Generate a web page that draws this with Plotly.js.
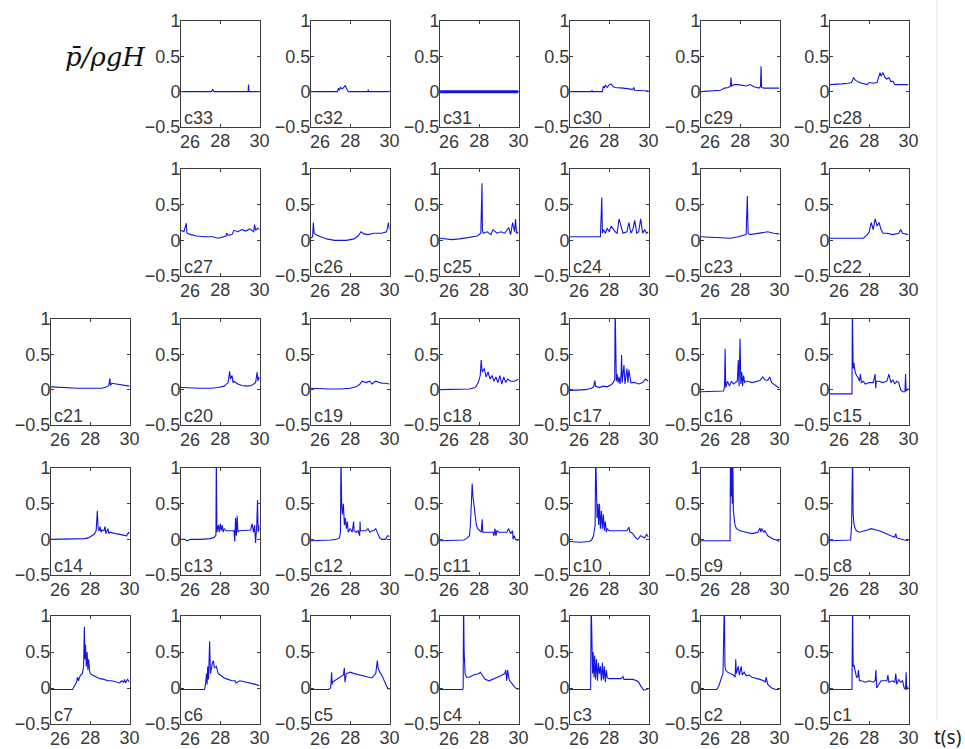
<!DOCTYPE html>
<html><head><meta charset="utf-8">
<script src="https://cdn.plot.ly/plotly-3.0.1.min.js"></script>
<style>html,body{margin:0;padding:0;background:#fff}#chart{width:965px;height:749px}</style>
</head><body><div id="chart"></div>
<script>
// ---- data (t in s, p/(rho g H)) ----
const c33_t=[26,27.55,27.62,27.68,27.75,29.42,29.44,29.46,30];
const c33_p=[0,0,0.03,0,0,0,0.1,0,0];
const c32_t=[26,27.35,27.4,27.45,27.5,27.6,27.7,27.75,27.8,27.85,27.9,28.9,28.92,28.94,30];
const c32_p=[0,0,0.05,0.02,0.06,0.04,0.07,0.09,0.05,0.02,0,0,0.03,0,0];
const c31_t=[26,30];
const c31_p=[0,0];
const c30_t=[26,27.1,27.12,27.14,27.65,27.7,27.75,27.8,27.9,28.0,28.1,28.2,28.3,28.5,28.7,29.0,29.2,29.25,29.3,30];
const c30_p=[0,0,0.02,0,0,0.08,0.05,0.09,0.06,0.1,0.11,0.07,0.06,0.06,0.05,0.04,0.03,0.06,0.02,0.01];
const c29_t=[26,26.5,27.0,27.2,27.4,27.5,27.53,27.56,27.7,27.9,28.1,28.3,28.5,28.7,28.85,28.95,29.03,29.06,29.09,29.2,30];
const c29_p=[0,0.01,0.02,0.05,0.06,0.08,0.2,0.08,0.1,0.1,0.09,0.08,0.1,0.07,0.06,0.05,0.07,0.36,0.06,0.05,0.05];
const c28_t=[26,26.3,26.6,26.9,27.1,27.2,27.3,27.5,27.7,27.9,28.0,28.2,28.4,28.55,28.6,28.7,28.8,28.9,29.0,29.1,29.2,29.3,30];
const c28_p=[0.1,0.1,0.11,0.12,0.13,0.2,0.16,0.13,0.12,0.1,0.13,0.12,0.13,0.27,0.22,0.27,0.2,0.18,0.2,0.14,0.15,0.1,0.1];
const c27_t=[26,26.15,26.27,26.3,26.5,26.8,27.2,27.6,27.9,28.1,28.3,28.32,28.4,28.6,28.7,28.9,29.1,29.3,29.5,29.7,29.75,29.8,29.9,30];
const c27_p=[0.14,0.12,0.24,0.1,0.08,0.06,0.05,0.05,0.03,0.04,0.06,0.1,0.07,0.08,0.14,0.12,0.15,0.13,0.16,0.12,0.22,0.14,0.17,0.15];
const c26_t=[26,26.08,26.12,26.16,26.3,26.5,26.8,27.2,27.8,28.2,28.4,28.55,28.7,28.9,29.2,29.6,29.85,29.95,30];
const c26_p=[0.03,0.05,0.25,0.1,0.07,0.05,0.02,0,0,0.02,0.06,0.12,0.09,0.08,0.1,0.1,0.12,0.25,0.15];
const c25_t=[26,26.3,26.6,27,27.3,27.6,27.9,28.08,28.12,28.14,28.16,28.2,28.4,28.6,28.7,28.9,29.1,29.3,29.5,29.6,29.7,29.8,29.85,29.9,30];
const c25_p=[0.03,0.02,0.01,0.02,0.03,0.04,0.06,0.1,0.42,0.8,0.15,0.1,0.12,0.08,0.15,0.1,0.12,0.1,0.18,0.08,0.25,0.12,0.3,0.1,0.12];
const c24_t=[26,27.0,27.55,27.62,27.65,27.7,27.8,27.9,28.0,28.1,28.3,28.4,28.5,28.7,28.9,29.0,29.1,29.2,29.3,29.4,29.5,29.6,29.7,29.8,29.9,30];
const c24_p=[0.05,0.05,0.05,0.6,0.1,0.15,0.1,0.17,0.12,0.2,0.12,0.1,0.3,0.1,0.12,0.25,0.1,0.15,0.28,0.1,0.12,0.3,0.1,0.15,0.1,0.12];
const c23_t=[26,26.5,27,27.5,27.9,28.2,28.3,28.36,28.4,28.5,28.8,29.1,29.4,29.7,30];
const c23_p=[0.05,0.04,0.04,0.03,0.05,0.07,0.08,0.62,0.1,0.08,0.09,0.1,0.12,0.1,0.09];
const c22_t=[26,27,27.7,27.9,28.0,28.1,28.2,28.3,28.4,28.5,28.6,28.7,28.9,29.2,29.5,29.6,29.7,30];
const c22_p=[0.03,0.03,0.03,0.08,0.12,0.25,0.15,0.3,0.2,0.25,0.15,0.1,0.1,0.08,0.1,0.15,0.1,0.08];
const c21_t=[26,26.5,27.0,27.4,28.0,28.6,28.85,28.95,29.0,29.03,29.1,29.3,29.5,29.7,30];
const c21_p=[0.04,0.03,0.03,0.02,0.02,0.02,0.04,0.06,0.16,0.06,0.09,0.08,0.08,0.07,0.05];
const c20_t=[26,26.5,27.0,27.5,27.9,28.2,28.4,28.48,28.52,28.6,28.65,28.7,28.9,29.1,29.35,29.6,29.8,29.88,29.92,29.96,30];
const c20_p=[0.03,0.02,0.02,0.02,0.03,0.05,0.1,0.26,0.15,0.2,0.1,0.12,0.08,0.06,0.05,0.06,0.1,0.25,0.12,0.18,0.15];
const c19_t=[26,26.5,27,27.5,28,28.3,28.5,28.6,28.8,29,29.1,29.3,29.5,29.6,29.8,30];
const c19_p=[0.02,0.01,0.01,0.01,0.02,0.04,0.08,0.12,0.1,0.12,0.08,0.12,0.1,0.09,0.09,0.08];
const c18_t=[26,26.5,27,27.5,27.8,27.95,28.05,28.1,28.15,28.25,28.35,28.45,28.55,28.65,28.75,28.85,28.95,29.05,29.15,29.25,29.35,29.45,29.6,29.8,30];
const c18_p=[0,0,0,0.01,0.03,0.1,0.2,0.42,0.25,0.3,0.18,0.25,0.15,0.2,0.12,0.18,0.1,0.2,0.08,0.18,0.1,0.15,0.12,0.12,0.15];
const c17_t=[26,26.4,26.8,27.1,27.2,27.27,27.3,27.5,27.7,27.9,28.1,28.2,28.28,28.3,28.32,28.36,28.4,28.45,28.5,28.55,28.6,28.63,28.66,28.7,28.75,28.8,28.85,28.9,28.95,29.0,29.1,29.3,29.5,29.7,29.85,29.95,30];
const c17_p=[-0.01,-0.01,0,0.02,0.04,0.13,0.05,0.03,0.05,0.04,0.07,0.1,0.15,1.2,0.55,0.12,0.22,0.1,0.18,0.08,0.2,0.49,0.1,0.2,0.35,0.08,0.18,0.3,0.1,0.28,0.1,0.1,0.08,0.1,0.15,0.12,0.12];
const c16_t=[26,26.5,27,27.15,27.2,27.23,27.26,27.35,27.45,27.55,27.65,27.75,27.85,27.9,27.94,27.99,28.03,28.08,28.12,28.17,28.22,28.3,28.4,28.6,28.8,29.0,29.15,29.25,29.4,29.5,29.6,29.8,30];
const c16_p=[-0.03,-0.03,-0.02,-0.02,0.05,0.58,0.03,0.12,0.05,0.12,0.08,0.1,0.12,0.42,0.05,0.72,0.08,0.25,0.05,0.2,0.1,0.12,0.12,0.1,0.12,0.13,0.18,0.14,0.13,0.18,0.1,0.06,0.02];
const c15_t=[26,26.5,27,27.12,27.14,27.18,27.22,27.28,27.35,27.42,27.5,27.55,27.6,27.7,27.8,28.0,28.2,28.3,28.33,28.36,28.5,28.7,28.9,29.0,29.1,29.2,29.3,29.4,29.5,29.6,29.7,29.82,29.85,29.88,30];
const c15_p=[-0.06,-0.06,-0.06,-0.06,1.2,0.3,0.38,0.25,0.2,0.18,0.12,0.22,0.1,0.12,0.08,0.1,0.1,0.22,0.02,0.12,0.12,0.1,0.12,0.22,0.1,0.14,0.08,0.12,0.1,0.0,-0.03,-0.03,0.22,-0.02,0.02];
const c14_t=[26,26.5,27,27.5,27.7,27.9,28.05,28.2,28.3,28.36,28.4,28.45,28.5,28.55,28.6,28.7,28.75,28.8,28.9,28.95,29.0,29.1,29.3,29.5,29.7,29.85,29.95,30];
const c14_p=[0,0,0,0,0.01,0.02,0.04,0.07,0.12,0.4,0.15,0.12,0.18,0.1,0.13,0.12,0.18,0.08,0.15,0.08,0.1,0.09,0.08,0.07,0.06,0.05,0.1,0.07];
const c13_t=[26,26.2,26.3,26.5,27,27.5,27.7,27.78,27.8,27.83,27.9,27.95,28.0,28.05,28.1,28.15,28.2,28.3,28.4,28.6,28.7,28.74,28.78,28.82,28.86,28.9,28.95,29.0,29.2,29.4,29.55,29.62,29.7,29.75,29.8,29.86,29.9,29.93,29.96,30];
const c13_p=[0,0,-0.02,0,0,0.01,0.03,0.06,1.2,0.1,0.2,0.1,0.22,0.12,0.2,0.1,0.15,0.12,0.12,0.12,0.12,-0.03,0.3,0.05,0.33,0.1,0.12,0.12,0.12,0.12,0.13,0.22,0.1,0.2,-0.05,0.2,0.55,0.1,0.2,0.12];
const c12_t=[26,26.5,27,27.3,27.45,27.5,27.53,27.56,27.6,27.65,27.7,27.75,27.8,27.85,27.9,28.0,28.1,28.17,28.2,28.3,28.4,28.48,28.5,28.52,28.6,28.8,28.9,29.0,29.1,29.2,29.3,29.4,29.5,29.6,29.8,29.9,30];
const c12_p=[-0.02,-0.02,-0.01,0,0.02,0.1,1.2,0.5,0.35,0.5,0.2,0.3,0.15,0.25,0.1,0.15,0.1,0.25,0.12,0.1,0.12,0.05,0.25,0.12,0.12,0.12,0.15,0.1,0.12,0.12,0.15,0.08,0.02,0,0,0.05,0.04];
const c11_t=[26,26.5,27,27.2,27.35,27.5,27.55,27.6,27.64,27.68,27.72,27.78,27.85,27.92,28.0,28.1,28.15,28.18,28.3,28.5,28.7,28.75,28.8,28.85,28.9,29.0,29.2,29.4,29.5,29.6,29.7,29.72,29.78,29.85,30];
const c11_p=[-0.02,-0.02,-0.02,-0.01,0.01,0.05,0.2,0.45,0.78,0.6,0.5,0.3,0.2,0.15,0.12,0.1,0.28,0.1,0.1,0.1,0.1,0.05,0.15,0.05,0.12,0.1,0.1,0.1,0.15,0.08,0.12,0,0.05,0,-0.02];
const c10_t=[26,26.5,27,27.1,27.2,27.28,27.31,27.34,27.38,27.42,27.46,27.5,27.55,27.6,27.65,27.7,27.75,27.8,27.85,27.9,28.0,28.3,28.6,28.9,29.0,29.05,29.1,29.2,29.35,29.45,29.6,29.8,29.9,30];
const c10_p=[-0.03,-0.04,-0.03,-0.01,0.05,0.2,1.2,0.75,0.3,0.5,0.2,0.5,0.15,0.4,0.15,0.35,0.12,0.25,0.1,0.15,0.12,0.12,0.12,0.12,0.17,0.1,0.1,0.08,0.02,0,0.05,0.02,0.07,0.03];
const c9_t=[26,26.5,27,27.4,27.48,27.5,27.53,27.56,27.59,27.62,27.65,27.68,27.72,27.8,28.0,28.3,28.6,28.9,29.0,29.05,29.1,29.2,29.25,29.4,29.55,29.7,29.85,30];
const c9_p=[-0.02,-0.02,-0.02,-0.02,-0.02,1.2,0.6,1.2,0.5,1.2,0.4,0.3,0.22,0.15,0.12,0.1,0.08,0.1,0.16,0.1,0.15,0.1,0.12,0.05,0.02,0,-0.01,-0.03];
const c8_t=[26,26.5,27,27.05,27.1,27.15,27.18,27.22,27.28,27.35,27.5,27.7,27.9,28.1,28.3,28.5,28.7,28.9,29.1,29.3,29.35,29.4,29.6,29.8,30];
const c8_p=[-0.02,-0.02,-0.02,-0.01,0.2,1.2,0.35,0.22,0.15,0.12,0.1,0.11,0.13,0.15,0.14,0.12,0.1,0.07,0.05,0.03,0.08,0.02,0,-0.01,-0.02];
const c7_t=[26,26.5,27,27.1,27.2,27.3,27.35,27.4,27.5,27.6,27.66,27.7,27.73,27.76,27.8,27.84,27.88,27.92,27.96,28.0,28.1,28.3,28.5,28.7,28.9,29.1,29.3,29.5,29.6,29.7,29.75,29.8,29.9,30];
const c7_p=[-0.02,-0.02,-0.02,-0.02,0.03,0.08,0.15,0.1,0.18,0.2,0.3,0.85,0.4,0.6,0.3,0.5,0.25,0.4,0.25,0.2,0.18,0.15,0.13,0.12,0.1,0.1,0.08,0.07,0.1,0.08,0.12,0.07,0.12,0.08];
const c6_t=[26,26.5,27,27.2,27.25,27.3,27.33,27.36,27.4,27.43,27.46,27.5,27.55,27.6,27.65,27.7,27.8,27.9,28.0,28.2,28.4,28.6,28.75,28.8,29.0,29.3,29.6,29.8,30];
const c6_p=[-0.02,-0.02,-0.02,-0.02,0.05,0.2,0.05,0.3,0.12,0.4,0.65,0.2,0.3,0.35,0.38,0.28,0.3,0.2,0.18,0.14,0.12,0.1,0.1,0.07,0.1,0.08,0.07,0.05,0.03];
const c5_t=[26,26.5,26.9,27.0,27.05,27.08,27.1,27.2,27.3,27.5,27.65,27.7,27.73,27.8,28.0,28.2,28.5,28.8,29.1,29.3,29.38,29.42,29.5,29.6,29.7,29.8,29.9,30];
const c5_p=[-0.02,-0.02,-0.02,0,0.22,0.05,0.08,0.1,0.12,0.15,0.18,0.28,0.08,0.2,0.22,0.2,0.18,0.16,0.14,0.2,0.38,0.28,0.22,0.18,0.12,0.06,0,-0.02];
const c4_t=[26,26.5,27,27.15,27.18,27.2,27.23,27.28,27.35,27.5,27.7,27.9,28.0,28.05,28.2,28.3,28.5,28.7,28.9,29.1,29.3,29.35,29.4,29.45,29.5,29.55,29.7,29.85,30];
const c4_p=[-0.02,-0.02,-0.02,-0.02,0,1.2,0.5,0.2,0.15,0.15,0.18,0.2,0.2,0.22,0.15,0.12,0.1,0.12,0.15,0.17,0.2,0.25,0.1,0.25,0.15,0.1,0.05,0,-0.02];
const c3_t=[26,26.5,27,27.05,27.08,27.12,27.15,27.18,27.22,27.26,27.3,27.35,27.4,27.45,27.5,27.55,27.6,27.65,27.7,27.75,27.8,27.85,27.9,28.0,28.3,28.6,28.7,28.75,28.9,29.2,29.4,29.5,29.6,29.75,29.9,30];
const c3_p=[-0.02,-0.02,-0.02,-0.02,1.2,0.8,0.2,0.5,0.15,0.45,0.12,0.4,0.1,0.35,0.2,0.3,0.1,0.35,0.12,0.3,0.08,0.25,0.14,0.13,0.13,0.13,0.16,0.12,0.12,0.12,0.1,0.08,0.03,-0.03,-0.02,-0.01];
const c2_t=[26,26.5,26.8,26.9,26.97,27.05,27.12,27.15,27.19,27.22,27.26,27.35,27.5,27.65,27.74,27.77,27.8,27.9,27.95,28.05,28.1,28.2,28.3,28.45,28.6,28.8,29.0,29.2,29.28,29.32,29.4,29.6,29.8,30];
const c2_p=[-0.02,-0.02,-0.02,0.02,0.1,0.15,0.2,0.7,1.2,0.3,0.25,0.22,0.2,0.18,0.15,0.4,0.2,0.3,0.18,0.3,0.18,0.22,0.17,0.18,0.15,0.14,0.12,0.1,0.08,0.15,0.05,0,-0.02,-0.02];
const c1_t=[26,26.5,27,27.12,27.15,27.18,27.22,27.3,27.35,27.41,27.45,27.5,27.6,27.8,28.0,28.2,28.3,28.34,28.38,28.6,28.9,28.95,29.0,29.2,29.3,29.35,29.4,29.5,29.6,29.7,29.78,29.85,29.88,29.91,30];
const c1_p=[-0.02,-0.02,-0.02,-0.02,1.2,0.3,0.32,0.2,0.15,0.15,0.25,0.1,0.1,0.08,0.1,0.08,0.1,0.25,0,0.1,0.1,0.18,0.08,0.1,0.08,0.2,0.05,0.12,0.08,0.1,0,-0.02,0.22,-0.02,0.02];

const xTicks=[26,28,30];
const xTickText=['','28','30'];      // the "26" label is drawn by an overlaid axis, nudged right as in the reference
const xFirstTick=[26];
const xFirstText=['26'];
const yTicks=[-0.5,0,0.5,1];
const yTickText=['\u22120.5','0','0.5','1'];

const series={c1:[c1_t,c1_p],c2:[c2_t,c2_p],c3:[c3_t,c3_p],c4:[c4_t,c4_p],c5:[c5_t,c5_p],c6:[c6_t,c6_p],c7:[c7_t,c7_p],
c8:[c8_t,c8_p],c9:[c9_t,c9_p],c10:[c10_t,c10_p],c11:[c11_t,c11_p],c12:[c12_t,c12_p],c13:[c13_t,c13_p],c14:[c14_t,c14_p],
c15:[c15_t,c15_p],c16:[c16_t,c16_p],c17:[c17_t,c17_p],c18:[c18_t,c18_p],c19:[c19_t,c19_p],c20:[c20_t,c20_p],c21:[c21_t,c21_p],
c22:[c22_t,c22_p],c23:[c23_t,c23_p],c24:[c24_t,c24_p],c25:[c25_t,c25_p],c26:[c26_t,c26_p],c27:[c27_t,c27_p],
c28:[c28_t,c28_p],c29:[c29_t,c29_p],c30:[c30_t,c30_p],c31:[c31_t,c31_p],c32:[c32_t,c32_p],c33:[c33_t,c33_p]};

// ---- layout grid (pixel positions of each panel) ----
const W=965,H=749;
const rowTops=[21,169,319,468,616], rowBots=[127,276,425,575,724];
const colLefts=[51,181,311,440,570,701,830], colW=78.5;
const grid=[
 [null,'c33','c32','c31','c30','c29','c28'],
 [null,'c27','c26','c25','c24','c23','c22'],
 ['c21','c20','c19','c18','c17','c16','c15'],
 ['c14','c13','c12','c11','c10','c9','c8'],
 ['c7','c6','c5','c4','c3','c2','c1']];

const FONT='"Liberation Sans", Arial, sans-serif';
const TXT='#3a3a3a', AX='#3c3c3c';
const traces=[], annotations=[];
const layout={width:W,height:H,margin:{l:0,r:0,t:0,b:0},paper_bgcolor:'#fff',plot_bgcolor:'#fff',
  showlegend:false,font:{family:FONT,size:18,color:TXT}};
const NP=33;
let k=0;
grid.forEach((row,r)=>{row.forEach((name,c)=>{
  if(!name) return;
  k++;
  const xs=k===1?'':String(k);
  const xo=String(NP+k);
  const x0=colLefts[c]/W, x1=(colLefts[c]+colW)/W;
  const y0=1-rowBots[r]/H, y1=1-rowTops[r]/H;
  layout['xaxis'+xs]={domain:[x0,x1],range:[26,30],anchor:'y'+xs,tickvals:xTicks,ticktext:xTickText,
    ticks:'inside',ticklen:3,tickcolor:AX,showline:true,linecolor:AX,linewidth:1,mirror:'ticks',ticklabelstandoff:-3,
    showgrid:false,zeroline:false,fixedrange:true,tickfont:{family:FONT,size:18,color:TXT}};
  layout['xaxis'+xo]={overlaying:'x'+xs,anchor:'y'+xs,side:'bottom',range:[26,30],tickvals:xFirstTick,ticktext:xFirstText,
    ticks:'inside',ticklen:3,tickcolor:'rgba(0,0,0,0)',showline:false,showgrid:false,zeroline:false,fixedrange:true,
    ticklabelstandoff:2,ticklabelshift:9,tickfont:{family:FONT,size:18,color:TXT}};
  layout['yaxis'+xs]={domain:[y0,y1],range:[-0.5,1],anchor:'x'+xs,tickvals:yTicks,ticktext:yTickText,
    ticks:'inside',ticklen:3,tickcolor:AX,showline:true,linecolor:AX,linewidth:1,mirror:'ticks',ticklabelstandoff:-4,
    showgrid:false,zeroline:false,fixedrange:true,tickfont:{family:FONT,size:18,color:TXT}};
  const d=series[name];
  traces.push({type:'scatter',mode:'lines',x:d[0],y:d[1],xaxis:'x'+xs,yaxis:'y'+xs,
    line:{color:'rgb(20,20,225)',width:name==='c31'?3:1.1},hoverinfo:'skip'});
  // empty trace so that the overlaid label axis is drawn
  traces.push({type:'scatter',mode:'lines',x:[],y:[],xaxis:'x'+xo,yaxis:'y'+xs,hoverinfo:'skip'});
  annotations.push({xref:'x'+xs,yref:'y'+xs,x:26.03,y:-0.5,xanchor:'left',yanchor:'bottom',yshift:-3,
    text:name,showarrow:false,font:{family:FONT,size:18,color:TXT}});
});});
annotations.push({xref:'paper',yref:'paper',x:63/W,y:1-57/H,xanchor:'left',yanchor:'middle',
  text:'p\u0304/\u03C1gH',showarrow:false,font:{family:'"DejaVu Serif", serif',size:26,color:'#111',style:'italic'}});
annotations.push({xref:'paper',yref:'paper',x:962/W,y:1-737/H,xanchor:'right',yanchor:'middle',borderpad:0,
  text:'t(s)',showarrow:false,font:{family:'"Noto Sans", sans-serif',size:19,color:'#222'}});
layout.annotations=annotations;
layout.shapes=[{type:'line',xref:'paper',yref:'paper',x0:937/W,x1:937/W,y0:1-720/H,y1:1,line:{color:'#e4e4e4',width:1}}];
Plotly.newPlot('chart',traces,layout,{staticPlot:true,displayModeBar:false});
</script>
</body></html>
